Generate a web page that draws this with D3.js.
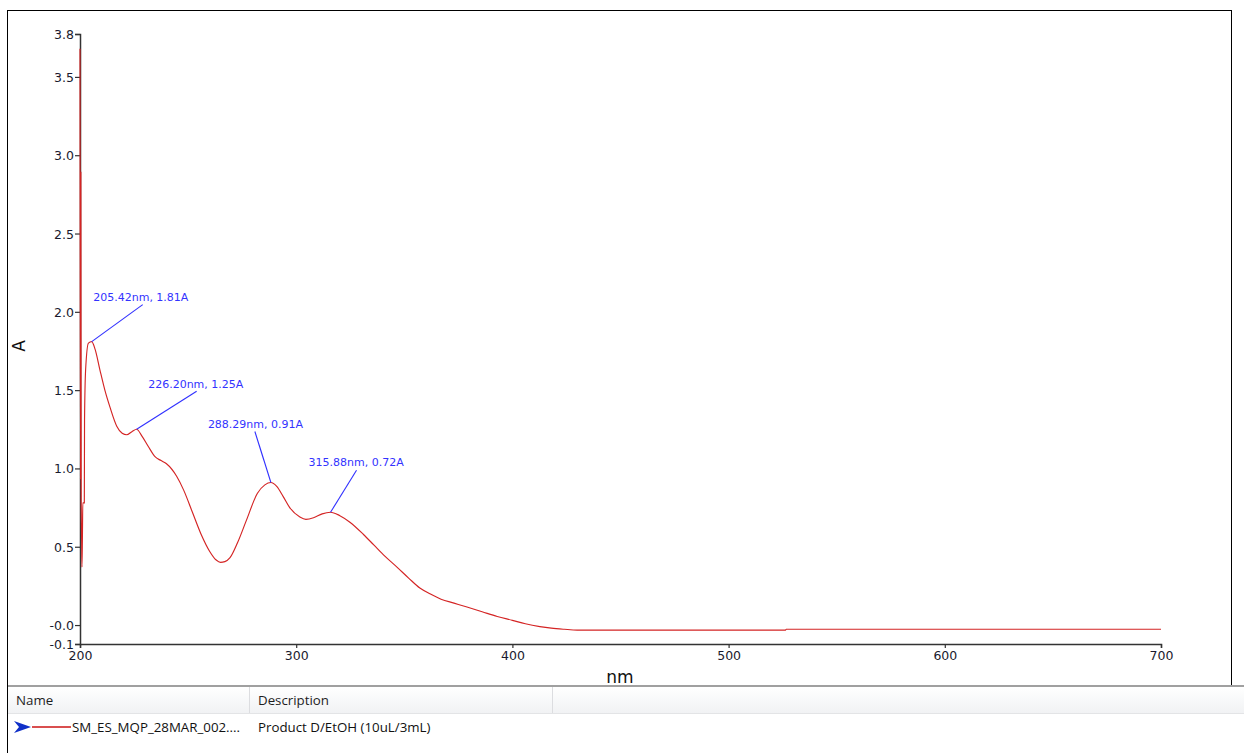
<!DOCTYPE html>
<html>
<head>
<meta charset="utf-8">
<script src="https://cdn.jsdelivr.net/npm/d3@7/dist/d3.min.js"></script>
<style>
    body { margin: 0; background: #fff; }
    svg { display: block; }
    .tick text { font-family: "DejaVu Sans", sans-serif; font-size: 12.5px; fill: #1a1a2e; }
</style>
</head>
<body>
<div id="chart"></div>
<script>
// spectrum (nm, absorbance)
const wavelength = [200.00, 200.05, 200.25, 200.40, 200.55, 200.75, 200.90, 201.10, 201.30, 202.00, 202.10,
    202.60, 203.90, 205.42, 207.0, 209.2, 211.5, 213.9, 217.0, 219.5, 221.6, 224.0, 226.2, 228.5, 231.6,
    234.7, 237.5, 240.0, 244.7, 248.0, 252.0, 256.0, 260.0, 263.0, 265.0, 267.0, 269.4, 273.0, 277.0,
    282.0, 285.5, 288.29, 291.0, 294.0, 297.0, 301.7, 304.5, 308.0, 312.0, 315.88, 320.0, 325.0, 331.0,
    336.0, 341.0, 346.6, 352.0, 357.2, 361.8, 367.0, 373.0, 379.0, 386.0, 393.0, 400.0, 406.0, 412.7,
    418.0, 424.0, 430.0, 450.0, 500.0, 526.4, 526.6, 600.0, 700.0];
const absorbance = [3.68, 2.89, 0.93, 2.89, 0.78, 0.55, 0.37, 0.54, 0.78, 0.78, 1.31,
    1.63, 1.80, 1.81, 1.76, 1.63, 1.50, 1.39, 1.27, 1.225, 1.215, 1.235, 1.25, 1.21, 1.14,
    1.075, 1.05, 1.03, 0.95, 0.86, 0.72, 0.58, 0.47, 0.415, 0.40, 0.405, 0.43, 0.53, 0.67,
    0.84, 0.895, 0.91, 0.885, 0.82, 0.75, 0.69, 0.675, 0.685, 0.71, 0.72, 0.70, 0.655, 0.58,
    0.51, 0.44, 0.37, 0.30, 0.236, 0.20, 0.165, 0.14, 0.115, 0.085, 0.055, 0.03, 0.008, -0.01,
    -0.02, -0.027, -0.032, -0.032, -0.032, -0.032, -0.027, -0.027, -0.027];

// picked peaks
const peakNm = [205.42, 226.20, 288.29, 315.88];
const peakA = [1.81, 1.25, 0.91, 0.72];

// axis ticks
const xTicks = [200, 300, 400, 500, 600, 700];
const yTicks = [-0.121, 0, 0.5, 1.0, 1.5, 2.0, 2.5, 3.0, 3.5, 3.774];
const yTickLabels = ["-0.1", "-0.0", "0.5", "1.0", "1.5", "2.0", "2.5", "3.0", "3.5", "3.8"];

// list panel
const seriesName = "SM_ES_MQP_28MAR_002....";
const seriesDesc = "Product D/EtOH (10uL/3mL)";

// label placement relative to each peak (px): leader end, text anchor
const leaderOffsets = [[51, -37], [60, -38], [-16, -51], [26, -42]];
const textOffsets = [[1.5, -41], [11.5, -41], [-63, -55], [-22, -46]];

const W = 1244, H = 753;
const svg = d3.select("#chart").append("svg")
    .attr("width", W)
    .attr("height", H);

// frame of the graph pane
svg.append("rect")
    .attr("x", 7.5).attr("y", 10.5)
    .attr("width", 1224).attr("height", 675)
    .attr("fill", "none").attr("stroke", "#000").attr("stroke-width", 1);
svg.append("line")
    .attr("x1", 7.5).attr("x2", 7.5).attr("y1", 686).attr("y2", H)
    .attr("stroke", "#000");

const x = d3.scaleLinear().domain([200, 700]).range([80, 1161]);
const y = d3.scaleLinear().domain([-0.121, 3.774]).range([644, 34]);

const xAxis = d3.axisBottom(x).tickValues(xTicks).tickSize(4).tickPadding(1)
    .tickFormat(d3.format("d"));
const yAxis = d3.axisLeft(y).tickValues(yTicks).tickSize(5).tickPadding(1)
    .tickFormat((d, i) => yTickLabels[i]);

const gx = svg.append("g")
    .attr("transform", "translate(0,644)")
    .call(xAxis);
const gy = svg.append("g")
    .attr("transform", "translate(80,0)")
    .call(yAxis);

[gx, gy].forEach(g => {
    g.select(".domain").attr("stroke", "#333").attr("stroke-width", 1.5);
    g.selectAll(".tick line").attr("stroke", "#333").attr("stroke-width", 1.2);
});
gx.selectAll(".tick text").attr("dy", "0.9em");
gy.selectAll(".tick text").attr("dy", "0.36em");

// axis titles
svg.append("text")
    .attr("x", 620).attr("y", 683)
    .attr("text-anchor", "middle")
    .style("font-family", "DejaVu Sans, sans-serif")
    .style("font-size", "17px")
    .attr("fill", "#111")
    .text("nm");
svg.append("text")
    .attr("transform", "translate(25,346) rotate(-90)")
    .attr("text-anchor", "middle")
    .style("font-family", "DejaVu Sans, sans-serif")
    .style("font-size", "17px")
    .attr("fill", "#111")
    .text("A");

// spectrum
const pts = wavelength.map((d, i) => [d, absorbance[i]]);
const line = d3.line()
    .x(d => x(d[0]))
    .y(d => y(d[1]))
    .curve(d3.curveMonotoneX);

svg.append("path")
    .datum(pts)
    .attr("d", line)
    .attr("fill", "none")
    .attr("stroke", "#d42424")
    .attr("stroke-width", 1.15);

// peak labels
peakNm.forEach((nm, i) => {
    const px = x(nm), py = y(peakA[i]);
    svg.append("line")
        .attr("x1", px).attr("y1", py)
        .attr("x2", px + leaderOffsets[i][0]).attr("y2", py + leaderOffsets[i][1])
        .attr("stroke", "#3030ff").attr("stroke-width", 1.1);
    svg.append("text")
        .attr("x", px + textOffsets[i][0]).attr("y", py + textOffsets[i][1])
        .style("font-family", "DejaVu Sans, sans-serif")
        .style("font-size", "11px")
        .attr("fill", "#3333ff")
        .text(nm.toFixed(2) + "nm, " + peakA[i].toFixed(2) + "A");
});

// list panel below the graph
const grad = svg.append("defs").append("linearGradient")
    .attr("id", "hdr").attr("x1", 0).attr("x2", 0).attr("y1", 0).attr("y2", 1);
grad.append("stop").attr("offset", "0%").attr("stop-color", "#ffffff");
grad.append("stop").attr("offset", "100%").attr("stop-color", "#f1f2f4");

svg.append("rect")
    .attr("x", 8).attr("y", 687).attr("width", W - 8).attr("height", 26)
    .attr("fill", "url(#hdr)");
svg.append("line")
    .attr("x1", 8).attr("x2", W).attr("y1", 686).attr("y2", 686)
    .attr("stroke", "#a0a0a0").attr("stroke-width", 2);
svg.append("line")
    .attr("x1", 8).attr("x2", W).attr("y1", 713.5).attr("y2", 713.5)
    .attr("stroke", "#e3e4e6");
[249.5, 552.5].forEach(cx => {
    svg.append("line")
        .attr("x1", cx).attr("x2", cx).attr("y1", 687).attr("y2", 713)
        .attr("stroke", "#dcdde0");
});

const listFont = "'Open Sans', 'Noto Sans', sans-serif";
svg.append("text").attr("x", 16).attr("y", 705)
    .style("font-family", listFont).style("font-size", "13.3px").attr("fill", "#1e1e1e")
    .text("Name");
svg.append("text").attr("x", 258).attr("y", 705)
    .style("font-family", listFont).style("font-size", "13.3px").attr("fill", "#1e1e1e")
    .text("Description");

// legend marker for the series row
svg.append("path")
    .attr("d", "M14,721 L31,727 L14,733 L19,727 Z")
    .attr("fill", "#1030c8");
svg.append("line")
    .attr("x1", 32).attr("x2", 71).attr("y1", 727).attr("y2", 727)
    .attr("stroke", "#cc1414").attr("stroke-width", 1.5);
svg.append("text").attr("x", 72).attr("y", 732)
    .style("font-family", listFont).style("font-size", "13.3px").attr("fill", "#111")
    .text(seriesName);
svg.append("text").attr("x", 258).attr("y", 732)
    .style("font-family", listFont).style("font-size", "13.3px").attr("fill", "#111")
    .text(seriesDesc);
</script>
</body>
</html>
